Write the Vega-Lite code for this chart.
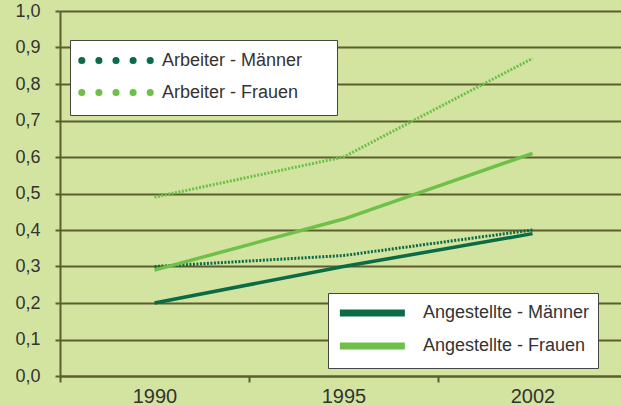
{
  "$schema": "https://vega.github.io/schema/vega-lite/v6.json",
  "width": 561,
  "height": 365,
  "autosize": "none",
  "padding": {"left": 60, "top": 11, "right": 0, "bottom": 30},
  "background": "#d3e4a0",
  "config": {
    "view": {"stroke": null},
    "font": "Liberation Sans",
    "axis": {
      "domainColor": "#5d5e2f",
      "domainWidth": 2,
      "tickColor": "#5d5e2f",
      "tickWidth": 2,
      "gridColor": "#5d5e2f",
      "gridWidth": 2,
      "gridOpacity": 1,
      "labelFontSize": 18,
      "labelColor": "#333333",
      "labelFont": "Liberation Sans",
      "title": null
    },
    "legend": {
      "orient": "none",
      "fillColor": "#ffffff",
      "strokeColor": "#444444",
      "labelFontSize": 18,
      "labelColor": "#333333",
      "labelFont": "Liberation Sans",
      "labelLimit": 400,
      "symbolType": "M-1,0H7",
      "padding": 8
    }
  },
  "data": {
    "values": [
      {"group": "Arbeiter", "series": "Arbeiter - Männer", "year": "1990", "value": 0.30},
      {"group": "Arbeiter", "series": "Arbeiter - Männer", "year": "1995", "value": 0.33},
      {"group": "Arbeiter", "series": "Arbeiter - Männer", "year": "2002", "value": 0.40},
      {"group": "Arbeiter", "series": "Arbeiter - Frauen", "year": "1990", "value": 0.49},
      {"group": "Arbeiter", "series": "Arbeiter - Frauen", "year": "1995", "value": 0.60},
      {"group": "Arbeiter", "series": "Arbeiter - Frauen", "year": "2002", "value": 0.87},
      {"group": "Angestellte", "series": "Angestellte - Männer", "year": "1990", "value": 0.20},
      {"group": "Angestellte", "series": "Angestellte - Männer", "year": "1995", "value": 0.30},
      {"group": "Angestellte", "series": "Angestellte - Männer", "year": "2002", "value": 0.39},
      {"group": "Angestellte", "series": "Angestellte - Frauen", "year": "1990", "value": 0.29},
      {"group": "Angestellte", "series": "Angestellte - Frauen", "year": "1995", "value": 0.43},
      {"group": "Angestellte", "series": "Angestellte - Frauen", "year": "2002", "value": 0.61}
    ]
  },
  "encoding": {
    "x": {
      "field": "year",
      "type": "ordinal",
      "scale": {"type": "band", "domain": ["1990", "1995", "2002"], "range": [0, 567], "paddingInner": 0, "paddingOuter": 0},
      "axis": {"labelAngle": 0, "tickBand": "extent", "tickSize": 6, "labelPadding": 4, "labelFontSize": 20, "grid": false}
    },
    "y": {
      "field": "value",
      "type": "quantitative",
      "scale": {"domain": [0, 1], "nice": false, "zero": true},
      "axis": {
        "values": [0, 0.1, 0.2, 0.3, 0.4, 0.5, 0.6, 0.7, 0.8, 0.9, 1.0],
        "labelExpr": "replace(format(datum.value, '.1f'), '.', ',')",
        "tickSize": 5,
        "labelPadding": 15,
        "grid": true
      }
    }
  },
  "layer": [
    {
      "transform": [{"filter": "datum.group === 'Arbeiter'"}],
      "mark": {"type": "line", "strokeWidth": 3, "strokeDash": [2, 1.5]},
      "encoding": {
        "color": {
          "field": "series",
          "type": "nominal",
          "scale": {"domain": ["Arbeiter - Männer", "Arbeiter - Frauen"], "range": ["#0a6b45", "#6fc049"]},
          "legend": {
            "title": null,
            "legendX": 10,
            "legendY": 29,
            "symbolSize": 306,
            "labelOffset": 59,
            "rowPadding": 3,
            "symbolStrokeWidth": 7,
            "symbolDash": [0.1, 17],
            "labelExpr": "datum.label + '\u2800\u2800'",
            "encode": {"symbols": {"update": {"strokeCap": {"value": "round"}}}}
          }
        }
      }
    },
    {
      "transform": [{"filter": "datum.group === 'Angestellte'"}],
      "mark": {"type": "line", "strokeWidth": 3.5},
      "encoding": {
        "color": {
          "field": "series",
          "type": "nominal",
          "scale": {"domain": ["Angestellte - Männer", "Angestellte - Frauen"], "range": ["#0a6b45", "#6fc049"]},
          "legend": {
            "title": null,
            "legendX": 268,
            "legendY": 282,
            "symbolSize": 264,
            "labelOffset": 63,
            "rowPadding": 5,
            "symbolStrokeWidth": 7,
            "symbolDash": []
          }
        }
      }
    }
  ],
  "resolve": {"scale": {"color": "independent"}}
}
